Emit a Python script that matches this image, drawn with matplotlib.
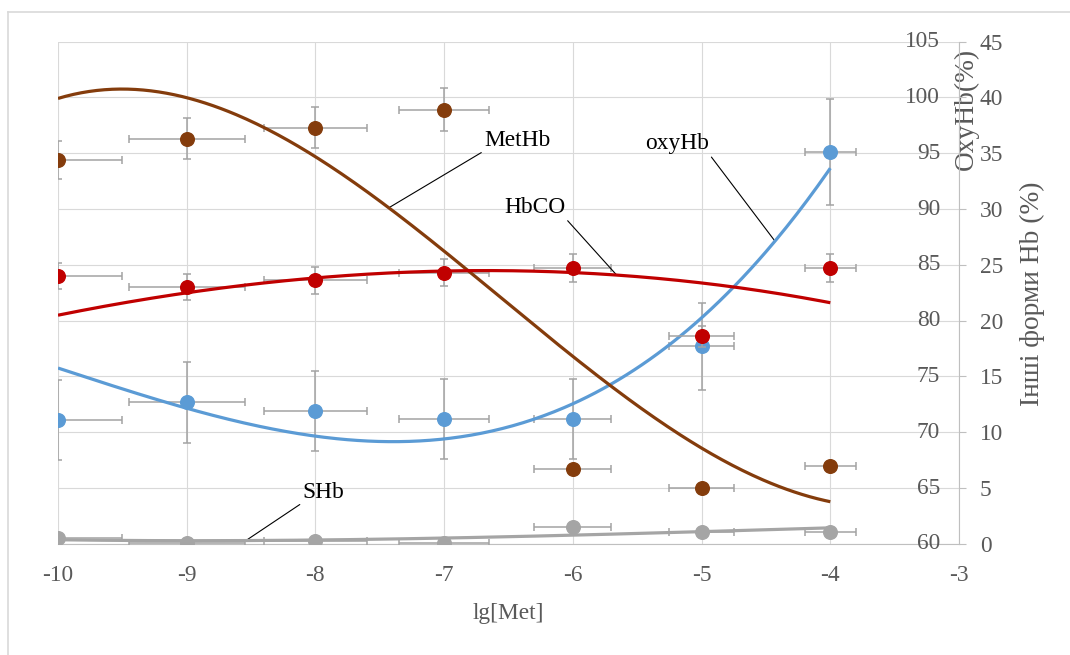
import numpy as np
import matplotlib.pyplot as plt
import matplotlib.transforms as mtransforms
from matplotlib.lines import Line2D

plt.rcParams['font.family'] = ['Liberation Serif', 'DejaVu Serif']
plt.rcParams['axes.unicode_minus'] = False

# lg of metal concentration
lg_met = [-10, -9, -8, -7, -6, -5, -4]

# oxyHb (%), left scale 60..105
oxy_hb = [71.1, 72.7, 71.9, 71.2, 71.2, 77.7, 95.1]
oxy_trend = [75.7, 72.3, 69.6, 69.35, 72.5, 80.4, 93.6]

# other Hb forms (%), right scale 0..45
met_hb = [34.4, 36.3, 37.3, 38.9, 6.7, 5.0, 7.0]
met_trend = [39.9, 39.95, 34.8, 26.0, 17.0, 8.5, 3.8]
hb_co = [24.0, 23.0, 23.6, 24.3, 24.7, 18.6, 24.7]
co_trend = [20.5, 22.45, 23.9, 24.4, 24.3, 23.4, 21.6]
s_hb = [0.5, 0.1, 0.3, 0.1, 1.5, 1.1, 1.1]
s_trend = [0.39, 0.27, 0.36, 0.56, 0.77, 1.1, 1.45]

x_ticks = [-10, -9, -8, -7, -6, -5, -4, -3]
oxy_ticks = [60, 65, 70, 75, 80, 85, 90, 95, 100, 105]
other_ticks = [0, 5, 10, 15, 20, 25, 30, 35, 40, 45]

ERR = 0.05  # 5 % error bars on x and y

BLUE = '#5b9bd5'
BROWN = '#843c0c'
RED = '#c00000'
GRAY = '#a5a5a5'
TXT = '#595959'
FS = 16.8


def draw_series(axis, y, trend, color):
    x = np.array(lg_met, dtype=float)
    y = np.array(y, dtype=float)
    axis.errorbar(x, y, xerr=ERR * np.abs(x), yerr=ERR * y, fmt='none',
                  ecolor='#a3a3a3', elinewidth=1.1, capsize=3.2, capthick=1.1, zorder=2)
    axis.plot(x, y, 'o', color=color, ms=9.8, zorder=3)
    # polynomial trend line (3rd order)
    coef = np.polyfit(x, trend, 3)
    xs = np.linspace(x.min(), x.max(), 300)
    axis.plot(xs, np.polyval(coef, xs), color=color, lw=2.3, zorder=4,
              solid_capstyle='butt')
    return coef


fig = plt.figure(figsize=(10.7, 6.55), dpi=100)
ax = fig.add_axes([0.0542, 0.1695, 0.8421, 0.7671])
ax2 = ax.twinx()

ax.set_xlim(-10, -3)
ax.set_ylim(60, 105)
ax2.set_ylim(0, 45)

ax.set_xticks(x_ticks)
ax.set_xticklabels([str(t) for t in x_ticks])
ax.set_yticks(oxy_ticks)
ax.grid(True, color='#d9d9d9', lw=0.8)
ax.set_axisbelow(True)
ax.tick_params(axis='x', length=0, pad=15, labelsize=FS, labelcolor=TXT)
ax.tick_params(axis='y', length=0, labelleft=False, labelright=False)

# oxyHb scale labels sit inside the plot, left of the axis line
lab_tr = mtransforms.blended_transform_factory(ax.transAxes, ax.transData)
for v in oxy_ticks:
    ax.text(0.979, v, str(v), transform=lab_tr, ha='right', va='center',
            fontsize=FS, color=TXT)

ax2.set_yticks(other_ticks)
ax2.tick_params(axis='y', direction='out', length=5, width=0.8, color='#bfbfbf',
                pad=10, labelsize=FS, labelcolor=TXT)

for sp in ['top', 'left', 'right']:
    ax.spines[sp].set_visible(False)
    ax2.spines[sp].set_visible(sp == 'right')
ax2.spines['bottom'].set_visible(False)
ax.spines['bottom'].set_color('#bfbfbf')
ax.spines['bottom'].set_linewidth(0.8)
ax2.spines['right'].set_color('#bfbfbf')
ax2.spines['right'].set_linewidth(0.8)

ax.set_xlabel('lg[Met]', fontsize=FS, color=TXT)
ax.xaxis.set_label_coords(0.5, -0.117)
ax.set_ylabel('OxyHb(%)', fontsize=19.7, color=TXT, rotation=90, ha='center', va='center')
ax.yaxis.set_label_coords(1.0078, 0.8657)
ax2.set_ylabel('Інші форми Hb (%)', fontsize=19.7, color=TXT, rotation=90,
               ha='center', va='center')
ax2.yaxis.set_label_coords(1.081, 0.4975)

c_oxy = draw_series(ax, oxy_hb, oxy_trend, BLUE)
c_met = draw_series(ax2, met_hb, met_trend, BROWN)
c_co = draw_series(ax2, hb_co, co_trend, RED)
c_s = draw_series(ax2, s_hb, s_trend, GRAY)

leader = dict(arrowstyle='-', color='black', lw=0.8, shrinkA=0, shrinkB=0)
ax2.annotate('MetHb', xy=(-7.43, np.polyval(c_met, -7.43)), xytext=(-6.69, 35.2),
             ha='left', va='bottom', fontsize=FS,
             arrowprops=dict(leader, relpos=(0, 0)))
ax2.annotate('HbCO', xy=(-5.66, np.polyval(c_co, -5.66)), xytext=(-6.06, 29.2),
             ha='right', va='bottom', fontsize=FS,
             arrowprops=dict(leader, relpos=(1, 0)))
ax.annotate('oxyHb', xy=(-4.43, np.polyval(c_oxy, -4.43)), xytext=(-4.94, 94.9),
            ha='right', va='bottom', fontsize=FS,
            arrowprops=dict(leader, relpos=(1, 0)))
ax2.annotate('SHb', xy=(-8.54, np.polyval(c_s, -8.54)), xytext=(-8.10, 3.7),
             ha='left', va='bottom', fontsize=FS,
             arrowprops=dict(leader, relpos=(0, 0)))

# chart frame
fig.add_artist(Line2D([8 / 1070, 8 / 1070], [0, 1 - 12 / 655], transform=fig.transFigure,
                      color='#d9d9d9', lw=1.2))
fig.add_artist(Line2D([8 / 1070, 1], [1 - 12 / 655, 1 - 12 / 655], transform=fig.transFigure,
                      color='#d9d9d9', lw=1.2))

fig.savefig('out.png', dpi=100)
